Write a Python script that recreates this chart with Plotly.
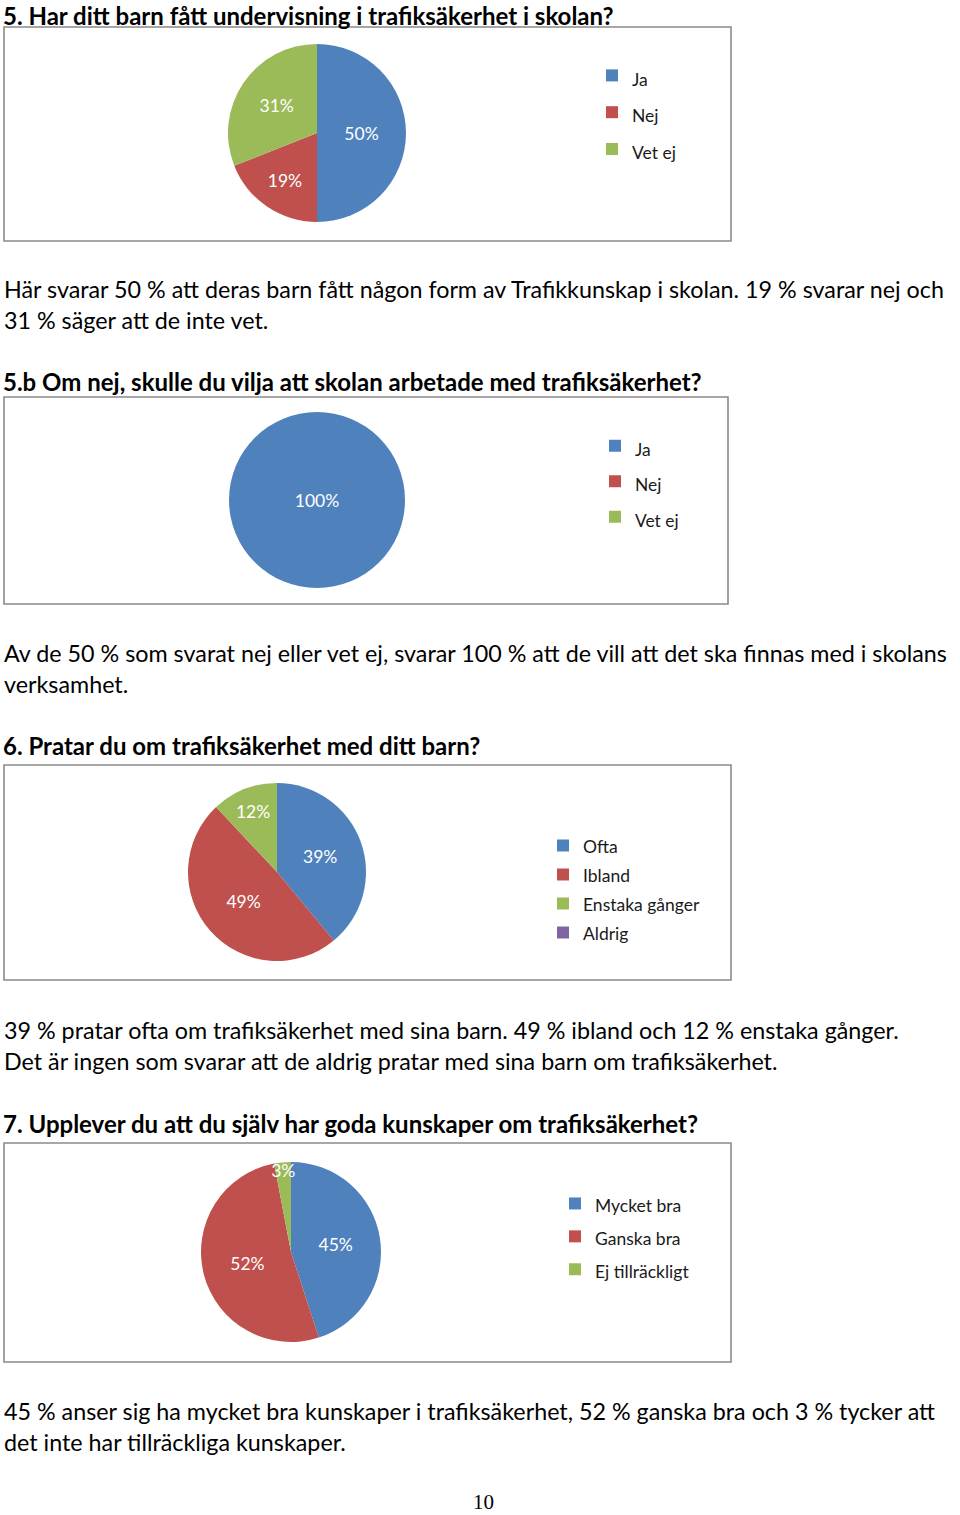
import plotly.graph_objects as go

W, H = 960, 1515

# ---------------- data ----------------
q5_labels = ["Ja", "Nej", "Vet ej"]
q5_values = [50, 19, 31]

q5b_labels = ["Ja", "Nej", "Vet ej"]
q5b_values = [100, 0, 0]

q6_labels = ["Ofta", "Ibland", "Enstaka gånger", "Aldrig"]
q6_values = [39, 49, 12, 0]

q7_labels = ["Mycket bra", "Ganska bra", "Ej tillräckligt"]
q7_values = [45, 52, 3]

colors = ["#4F81BD", "#C0504D", "#9BBB59", "#8064A2"]

titles = [
    "5. Har ditt barn fått undervisning i trafiksäkerhet i skolan?",
    "5.b Om nej, skulle du vilja att skolan arbetade med trafiksäkerhet?",
    "6. Pratar du om trafiksäkerhet med ditt barn?",
    "7. Upplever du att du själv har goda kunskaper om trafiksäkerhet?",
]
paragraphs = [
    ["Här svarar 50 % att deras barn fått någon form av Trafikkunskap i skolan. 19 % svarar nej och",
     "31 % säger att de inte vet."],
    ["Av de 50 % som svarat nej eller vet ej, svarar 100 % att de vill att det ska finnas med i skolans",
     "verksamhet."],
    ["39 % pratar ofta om trafiksäkerhet med sina barn. 49 % ibland och 12 % enstaka gånger.",
     "Det är ingen som svarar att de aldrig pratar med sina barn om trafiksäkerhet."],
    ["45 % anser sig ha mycket bra kunskaper i trafiksäkerhet, 52 % ganska bra och 3 % tycker att",
     "det inte har tillräckliga kunskaper."],
]
page_number = "10"

# ---------------- layout helpers (pixel -> paper) ----------------
def px(x):
    return x / W

def py(y):
    return 1 - y / H

FONT = "Lato, Carlito, Calibri, sans-serif"

blocks = [
    dict(title_y=15.5, box=(4, 27, 731, 241), pie=(317, 133, 89), leg=(592, 52, 26), par_y=(289, 320)),
    dict(title_y=381, box=(4, 397, 728, 604), pie=(317, 500, 88), leg=(595, 423, 25), par_y=(653, 684)),
    dict(title_y=745, box=(4, 765, 731, 980), pie=(277, 872, 89), leg=(543, 826, 20), par_y=(1030, 1061)),
    dict(title_y=1123, box=(4, 1143, 731, 1362), pie=(291, 1252, 90), leg=(555, 1182, 23), par_y=(1411, 1442)),
]
datasets = [(q5_labels, q5_values), (q5b_labels, q5b_values), (q6_labels, q6_values), (q7_labels, q7_values)]
# slightly different label sizes keep each pie's legend entries separate
legend_text_sizes = [17.5, 17.4, 17.5, 17.5]

fig = go.Figure()
shapes = []
annotations = []
layout_legends = {}

for i, (b, (labs, vals)) in enumerate(zip(blocks, datasets)):
    legname = "legend" if i == 0 else f"legend{i + 1}"
    cx, cy, r = b["pie"]
    texts = [f"{v}%" if v > 0 else "" for v in vals]
    fs = legend_text_sizes[i]
    fig.add_trace(go.Pie(
        labels=[f'<span style="font-size:{fs}px">{l}</span>' for l in labs],
        values=vals,
        text=texts,
        textinfo="text",
        textposition="inside",
        insidetextorientation="horizontal",
        textfont=dict(color="white", size=17.5, family=FONT),
        marker=dict(colors=colors[:len(vals)], line=dict(width=0)),
        sort=False,
        direction="clockwise",
        rotation=0,
        hoverinfo="label+percent",
        domain=dict(x=[px(cx - r), px(cx + r)], y=[py(cy + r), py(cy - r)]),
        legend=legname,
        showlegend=True,
    ))
    lx, ltop, lf = b["leg"]
    layout_legends[legname] = dict(
        x=px(lx), y=py(ltop), xanchor="left", yanchor="top",
        bgcolor="rgba(0,0,0,0)", borderwidth=0,
        font=dict(family=FONT, size=lf, color="#1a1a1a"),
        traceorder="normal",
    )
    x0, y0, x1, y1 = b["box"]
    shapes.append(dict(type="rect", xref="paper", yref="paper",
                       x0=px(x0), x1=px(x1), y0=py(y1), y1=py(y0),
                       line=dict(color="#8a8a8a", width=1.6), fillcolor="rgba(0,0,0,0)"))
    annotations.append(dict(text=f"<b>{titles[i]}</b>", x=px(2), y=py(b["title_y"]),
                            xref="paper", yref="paper", xanchor="left", yanchor="middle",
                            showarrow=False, borderpad=0,
                            font=dict(family=FONT, size=24, color="black")))
    for line, ly in zip(paragraphs[i], b["par_y"]):
        annotations.append(dict(text=line, x=px(2), y=py(ly),
                                xref="paper", yref="paper", xanchor="left", yanchor="middle",
                                showarrow=False, font=dict(family=FONT, size=23.3, color="black")))

annotations.append(dict(text=page_number, x=px(483), y=0, xref="paper", yref="paper",
                        xanchor="center", yanchor="bottom", showarrow=False, borderpad=0,
                        font=dict(family="Liberation Serif, Times New Roman, serif", size=21, color="black")))

fig.update_layout(
    width=W, height=H,
    margin=dict(l=0, r=0, t=0, b=0),
    paper_bgcolor="white", plot_bgcolor="white",
    shapes=shapes, annotations=annotations,
    uniformtext=dict(minsize=17, mode="show"),
    **layout_legends,
)

fig.write_html("out.html")
